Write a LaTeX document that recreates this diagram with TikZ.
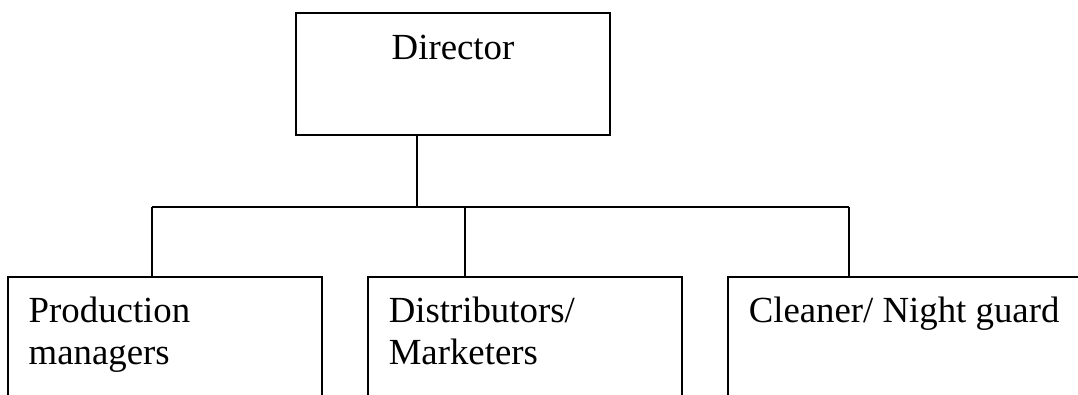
\documentclass[tikz,border=0pt]{standalone}
\usepackage{fontspec}
\setmainfont{Liberation Serif}
\usetikzlibrary{positioning}

\begin{document}
\begin{tikzpicture}[
  x=0.5pt,y=-0.5pt,
  every node/.style={font=\fontsize{18.4}{21}\selectfont},
  box/.style={draw,line width=0.65pt,minimum width=157pt,minimum height=61pt,inner sep=0pt},
  low/.style={box,minimum height=70pt},
  lbl/.style={inner sep=0pt,align=left},
  wire/.style={line width=0.65pt}
]
\useasboundingbox (0,0) rectangle (1078,395);
\clip (0,0) rectangle (1078,395);
\node[box] (dir) at (453,74) {};
\node[lbl,anchor=base] (dirtxt) at ([yshift=-23.5pt]dir.north) {Director};
\node[low] (prod) at (165,347) {};
\node[low] (dist) at (525,347) {};
\node[low,minimum width=191pt] (guard) at (919,347) {};
% two-line labels sit on the baseline of their last line
\node[lbl,anchor=base west] (prodtxt) at ([xshift=10.5pt,yshift=-44pt]prod.north west) {Production\\managers};
\node[lbl,anchor=base west] (disttxt) at ([xshift=10.5pt,yshift=-44pt]dist.north west) {Distributors/\\Marketers};
\node[lbl,anchor=base west] (guardtxt) at ([xshift=10.5pt,yshift=-23pt]guard.north west) {Cleaner/ Night guard};
% junction and drops
\coordinate (junc) at (417,207);
\coordinate (d1) at (152,207);
\coordinate (d2) at (465,207);
\coordinate (d3) at (849,207);
\draw[wire] (dir.south -| junc) -- (junc);
\draw[wire] (d1) -- (d3);
\draw[wire] (d1) -- (d1 |- prod.north);
\draw[wire] (d2) -- (d2 |- dist.north);
\draw[wire] (d3) -- (d3 |- guard.north);
\end{tikzpicture}
\end{document}
